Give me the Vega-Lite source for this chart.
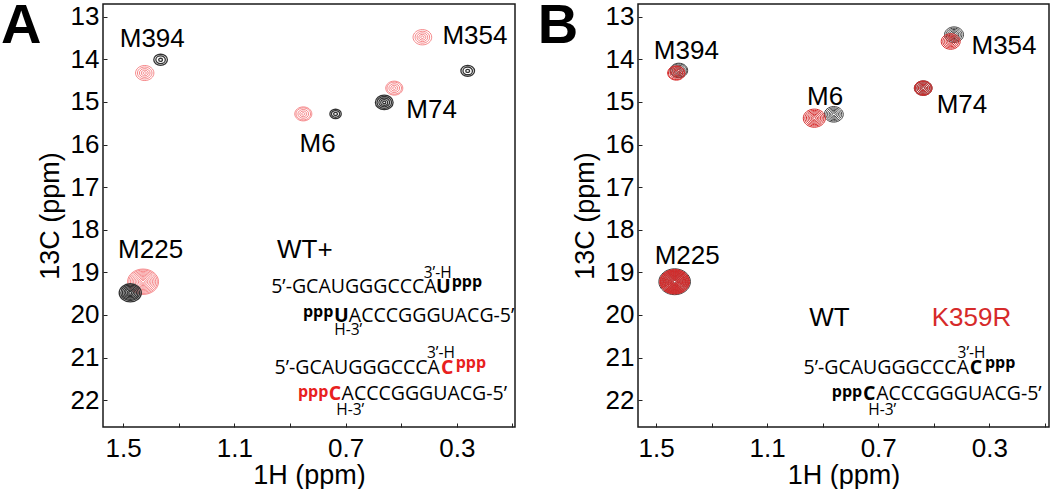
{
  "$schema": "https://vega.github.io/schema/vega-lite/v6.json",
  "background": "white",
  "padding": {"left": 0, "top": -3, "right": 0, "bottom": 0},
  "bounds": "flush",
  "spacing": 123,
  "datasets": {
    "peaksA": [
      {"peak": "M394", "series": "WT+ pppC", "x": 1.422, "y": 14.32, "levels": [1, 2.2, 3.4, 4.6, 5.8]},
      {"peak": "M354", "series": "WT+ pppC", "x": 0.424, "y": 13.48, "levels": [1, 2.2, 3.4, 4.6, 5.9]},
      {"peak": "M74", "series": "WT+ pppC", "x": 0.525, "y": 14.675, "levels": [1, 2.2, 3.4, 4.6, 5.4]},
      {"peak": "M6", "series": "WT+ pppC", "x": 0.852, "y": 15.28, "levels": [1, 2.2, 3.4, 4.6, 5.4]},
      {"peak": "M225", "series": "WT+ pppC", "x": 1.428, "y": 19.22, "levels": [1, 2, 3, 4, 5, 6, 7, 8, 9, 9.8]},
      {"peak": "M394", "series": "WT+ pppU", "x": 1.365, "y": 14.01, "levels": [1.2, 3, 4.3]},
      {"peak": "M354", "series": "WT+ pppU", "x": 0.261, "y": 14.27, "levels": [1.2, 3, 4.3]},
      {"peak": "M74", "series": "WT+ pppU", "x": 0.561, "y": 15.01, "levels": [1, 2.2, 3.4, 4.6, 5.6]},
      {"peak": "M6", "series": "WT+ pppU", "x": 0.736, "y": 15.28, "levels": [1.2, 2.6, 3.6]},
      {"peak": "M225", "series": "WT+ pppU", "x": 1.474, "y": 19.48, "levels": [1, 2, 3, 4, 5, 6, 7]}
    ],
    "peaksB": [
      {"peak": "M394", "series": "WT", "x": 1.418, "y": 14.26, "levels": [1, 2, 3, 4, 5, 5.6]},
      {"peak": "M354", "series": "WT", "x": 0.427, "y": 13.42, "levels": [1, 2, 3, 4, 5, 6]},
      {"peak": "M74", "series": "WT", "x": 0.538, "y": 14.675, "levels": [1, 2, 3, 4, 5, 5.6]},
      {"peak": "M6", "series": "WT", "x": 0.86, "y": 15.29, "levels": [1, 2, 3, 4, 5, 6]},
      {"peak": "M225", "series": "WT", "x": 1.433, "y": 19.22, "levels": [1, 2, 3, 4, 5, 6, 7, 8, 9, 10]},
      {"peak": "M394", "series": "K359R", "x": 1.427, "y": 14.32, "levels": [1, 2, 3, 4, 5, 5.5]},
      {"peak": "M354", "series": "K359R", "x": 0.439, "y": 13.58, "levels": [1, 2, 3, 4, 5, 6]},
      {"peak": "M74", "series": "K359R", "x": 0.538, "y": 14.675, "levels": [1, 2, 3, 4, 5, 5.6]},
      {"peak": "M6", "series": "K359R", "x": 0.93, "y": 15.38, "levels": [1, 2, 3, 4, 5, 6, 7]},
      {"peak": "M225", "series": "K359R", "x": 1.433, "y": 19.22, "levels": [1, 1.5, 2, 2.5, 3, 3.5, 4, 4.5, 5, 5.5, 6, 6.5, 7, 7.5, 8, 8.5, 9, 9.5]}
    ],
    "textA": [
      {"role": "letter", "text": "A", "x": 1.866, "y": 13.611, "series": "label"},
      {"role": "label", "text": "M394", "x": 1.395, "y": 13.52, "series": "label"},
      {"role": "label", "text": "M354", "x": 0.235, "y": 13.46, "series": "label"},
      {"role": "label", "text": "M74", "x": 0.3906, "y": 15.18, "series": "label"},
      {"role": "label", "text": "M6", "x": 0.8008, "y": 15.985, "series": "label"},
      {"role": "label", "text": "M225", "x": 1.401, "y": 18.47, "series": "label"},
      {"role": "label", "text": "WT+", "x": 0.8465, "y": 18.47, "series": "label"},
      {"role": "strand5", "text": "5’-GCAUGGGCCCA", "x": 0.3726, "y": 19.49, "series": "label"},
      {"role": "nt", "text": "U", "x": 0.3485, "y": 19.49, "series": "label"},
      {"role": "tri5", "text": "ppp", "x": 0.3186, "y": 19.35, "series": "label"},
      {"role": "end", "text": "3’-H", "x": 0.369, "y": 19.14, "series": "label"},
      {"role": "tri3", "text": "ppp", "x": 0.7443, "y": 20.056, "series": "label"},
      {"role": "nt", "text": "U", "x": 0.7155, "y": 20.159, "series": "label"},
      {"role": "strand3", "text": "ACCCGGGUACG-5’", "x": 0.6882, "y": 20.159, "series": "label"},
      {"role": "end", "text": "H-3’", "x": 0.6904, "y": 20.46, "series": "label"},
      {"role": "strand5", "text": "5’-GCAUGGGCCCA", "x": 0.3608, "y": 21.395, "series": "label"},
      {"role": "nt", "text": "C", "x": 0.3349, "y": 21.395, "series": "pppC"},
      {"role": "tri5", "text": "ppp", "x": 0.3043, "y": 21.254, "series": "pppC"},
      {"role": "end", "text": "3’-H", "x": 0.3575, "y": 21.02, "series": "label"},
      {"role": "tri3", "text": "ppp", "x": 0.7623, "y": 21.936, "series": "pppC"},
      {"role": "nt", "text": "C", "x": 0.7386, "y": 22.0, "series": "pppC"},
      {"role": "strand3", "text": "ACCCGGGUACG-5’", "x": 0.7145, "y": 22.0, "series": "label"},
      {"role": "end", "text": "H-3’", "x": 0.6832, "y": 22.34, "series": "label"}
    ],
    "textB": [
      {"role": "letter", "text": "B", "x": 1.853, "y": 13.611, "series": "label"},
      {"role": "label", "text": "M394", "x": 1.391, "y": 13.8, "series": "label"},
      {"role": "label", "text": "M354", "x": 0.247, "y": 13.68, "series": "label"},
      {"role": "label", "text": "M6", "x": 0.891, "y": 14.885, "series": "label"},
      {"role": "label", "text": "M74", "x": 0.3984, "y": 15.067, "series": "label"},
      {"role": "label", "text": "M225", "x": 1.388, "y": 18.61, "series": "label"},
      {"role": "label", "text": "WT", "x": 0.876, "y": 20.08, "series": "label"},
      {"role": "label", "text": "K359R", "x": 0.364, "y": 20.08, "series": "K359R"},
      {"role": "strand5", "text": "5’-GCAUGGGCCCA", "x": 0.3732, "y": 21.395, "series": "label"},
      {"role": "nt", "text": "C", "x": 0.3479, "y": 21.395, "series": "label"},
      {"role": "tri5", "text": "ppp", "x": 0.3155, "y": 21.254, "series": "label"},
      {"role": "end", "text": "3’-H", "x": 0.3641, "y": 21.02, "series": "label"},
      {"role": "tri3", "text": "ppp", "x": 0.7577, "y": 21.936, "series": "label"},
      {"role": "nt", "text": "C", "x": 0.7324, "y": 22.0, "series": "label"},
      {"role": "strand3", "text": "ACCCGGGUACG-5’", "x": 0.7072, "y": 22.0, "series": "label"},
      {"role": "end", "text": "H-3’", "x": 0.6856, "y": 22.34, "series": "label"}
    ]
  },
  "hconcat": [
    {
      "width": 412,
      "height": 423,
      "layer": [
        {
          "data": {"name": "peaksA"},
          "transform": [{"filter": "datum.series === 'WT+ pppC'"}, {"flatten": ["levels"], "as": ["level"]}],
          "mark": {"type": "point", "filled": false, "strokeWidth": 0.7, "opacity": 1, "shape": "M-1,0A1,0.82 0 1,0 1,0A1,0.82 0 1,0 -1,0Z"},
          "encoding": {
            "x": {"field": "x", "type": "quantitative", "scale": {"domain": [0.091, 1.572], "reverse": true, "nice": false, "zero": false},
              "axis": {"title": "1H (ppm)", "values": [1.5, 1.4, 1.3, 1.2, 1.1, 1.0, 0.9, 0.8, 0.7, 0.6, 0.5, 0.4, 0.3, 0.2, 0.1], "format": ".1f",
                "labelExpr": "indexof(['1.5','1.1','0.7','0.3'], datum.label) >= 0 ? datum.label : ''", "labelFlush": false, "labelOverlap": false, "labelPadding": 12, "titlePadding": 1}},
            "y": {"field": "y", "type": "quantitative", "scale": {"domain": [12.7, 22.63], "reverse": true, "nice": false, "zero": false},
              "axis": {"title": "13C (ppm)", "values": [13, 14, 15, 16, 17, 18, 19, 20, 21, 22], "labelFlush": false, "labelOverlap": false, "labelPadding": 8, "titlePadding": 6}},
            "size": {"field": "level", "type": "quantitative", "scale": {"type": "pow", "exponent": 2, "domain": [0, 10], "range": [0, 1000]}, "legend": null},
            "color": {"field": "series", "type": "nominal", "scale": {"domain": ["WT+ pppU", "WT+ pppC", "label", "pppC"], "range": ["#333333", "#f0575a", "#000000", "#e82020"]}, "legend": null}
          }
        },
        {
          "data": {"name": "peaksA"},
          "transform": [{"filter": "datum.series === 'WT+ pppU'"}, {"flatten": ["levels"], "as": ["level"]}],
          "mark": {"type": "point", "filled": false, "strokeWidth": 1.3, "opacity": 1, "shape": "M-1,0A1,0.82 0 1,0 1,0A1,0.82 0 1,0 -1,0Z"},
          "encoding": {"x": {"field": "x", "type": "quantitative"}, "y": {"field": "y", "type": "quantitative"}, "size": {"field": "level", "type": "quantitative"}, "color": {"field": "series", "type": "nominal"}}
        },
        {
          "data": {"name": "textA"},
          "transform": [{"filter": "datum.role === 'label'"}],
          "mark": {"type": "text", "font": "Liberation Sans", "fontSize": 26, "align": "center", "baseline": "middle"},
          "encoding": {"x": {"field": "x", "type": "quantitative"}, "y": {"field": "y", "type": "quantitative"}, "text": {"field": "text"}, "color": {"field": "series", "type": "nominal"}}
        },
        {
          "data": {"name": "textA"},
          "transform": [{"filter": "datum.role === 'letter'"}],
          "mark": {"type": "text", "font": "Liberation Sans", "fontSize": 56, "fontWeight": "bold", "align": "center", "baseline": "alphabetic"},
          "encoding": {"x": {"field": "x", "type": "quantitative"}, "y": {"field": "y", "type": "quantitative"}, "text": {"field": "text"}, "color": {"field": "series", "type": "nominal"}}
        },
        {
          "data": {"name": "textA"},
          "transform": [{"filter": "datum.role === 'strand5'"}],
          "mark": {"type": "text", "font": "Open Sans", "fontSize": 19.5, "align": "right", "baseline": "alphabetic"},
          "encoding": {"x": {"field": "x", "type": "quantitative"}, "y": {"field": "y", "type": "quantitative"}, "text": {"field": "text"}, "color": {"field": "series", "type": "nominal"}}
        },
        {
          "data": {"name": "textA"},
          "transform": [{"filter": "datum.role === 'strand3'"}],
          "mark": {"type": "text", "font": "Open Sans", "fontSize": 19.5, "align": "left", "baseline": "alphabetic"},
          "encoding": {"x": {"field": "x", "type": "quantitative"}, "y": {"field": "y", "type": "quantitative"}, "text": {"field": "text"}, "color": {"field": "series", "type": "nominal"}}
        },
        {
          "data": {"name": "textA"},
          "transform": [{"filter": "datum.role === 'nt'"}],
          "mark": {"type": "text", "font": "Open Sans", "fontSize": 19.5, "fontWeight": "bold", "align": "center", "baseline": "alphabetic"},
          "encoding": {"x": {"field": "x", "type": "quantitative"}, "y": {"field": "y", "type": "quantitative"}, "text": {"field": "text"}, "color": {"field": "series", "type": "nominal"}}
        },
        {
          "data": {"name": "textA"},
          "transform": [{"filter": "datum.role === 'tri5'"}],
          "mark": {"type": "text", "font": "Open Sans", "fontSize": 16, "fontWeight": "bold", "align": "left", "baseline": "alphabetic"},
          "encoding": {"x": {"field": "x", "type": "quantitative"}, "y": {"field": "y", "type": "quantitative"}, "text": {"field": "text"}, "color": {"field": "series", "type": "nominal"}}
        },
        {
          "data": {"name": "textA"},
          "transform": [{"filter": "datum.role === 'tri3'"}],
          "mark": {"type": "text", "font": "Open Sans", "fontSize": 16, "fontWeight": "bold", "align": "right", "baseline": "alphabetic"},
          "encoding": {"x": {"field": "x", "type": "quantitative"}, "y": {"field": "y", "type": "quantitative"}, "text": {"field": "text"}, "color": {"field": "series", "type": "nominal"}}
        },
        {
          "data": {"name": "textA"},
          "transform": [{"filter": "datum.role === 'end'"}],
          "mark": {"type": "text", "font": "Open Sans", "fontSize": 15.5, "align": "center", "baseline": "alphabetic"},
          "encoding": {"x": {"field": "x", "type": "quantitative"}, "y": {"field": "y", "type": "quantitative"}, "text": {"field": "text"}, "color": {"field": "series", "type": "nominal"}}
        }
      ]
    },
    {
      "width": 411,
      "height": 423,
      "layer": [
        {
          "data": {"name": "peaksB"},
          "transform": [{"flatten": ["levels"], "as": ["level"]}],
          "mark": {"type": "point", "filled": false, "strokeWidth": 1, "opacity": 1, "shape": "M-1,0A1,0.82 0 1,0 1,0A1,0.82 0 1,0 -1,0Z"},
          "encoding": {
            "x": {"field": "x", "type": "quantitative", "scale": {"domain": [0.085, 1.565], "reverse": true, "nice": false, "zero": false},
              "axis": {"title": "1H (ppm)", "values": [1.5, 1.4, 1.3, 1.2, 1.1, 1.0, 0.9, 0.8, 0.7, 0.6, 0.5, 0.4, 0.3, 0.2, 0.1], "format": ".1f",
                "labelExpr": "indexof(['1.5','1.1','0.7','0.3'], datum.label) >= 0 ? datum.label : ''", "labelFlush": false, "labelOverlap": false, "labelPadding": 12, "titlePadding": 1}},
            "y": {"field": "y", "type": "quantitative", "scale": {"domain": [12.7, 22.63], "reverse": true, "nice": false, "zero": false},
              "axis": {"title": "13C (ppm)", "values": [13, 14, 15, 16, 17, 18, 19, 20, 21, 22], "labelFlush": false, "labelOverlap": false, "labelPadding": 8, "titlePadding": 6}},
            "size": {"field": "level", "type": "quantitative", "scale": {"type": "pow", "exponent": 2, "domain": [0, 10], "range": [0, 1000]}, "legend": null},
            "color": {"field": "series", "type": "nominal", "scale": {"domain": ["WT", "K359R", "label"], "range": ["#404040", "#d62a2a", "#000000"]}, "legend": null}
          }
        },
        {
          "data": {"name": "textB"},
          "transform": [{"filter": "datum.role === 'label'"}],
          "mark": {"type": "text", "font": "Liberation Sans", "fontSize": 26, "align": "center", "baseline": "middle"},
          "encoding": {"x": {"field": "x", "type": "quantitative"}, "y": {"field": "y", "type": "quantitative"}, "text": {"field": "text"}, "color": {"field": "series", "type": "nominal"}}
        },
        {
          "data": {"name": "textB"},
          "transform": [{"filter": "datum.role === 'letter'"}],
          "mark": {"type": "text", "font": "Liberation Sans", "fontSize": 56, "fontWeight": "bold", "align": "center", "baseline": "alphabetic"},
          "encoding": {"x": {"field": "x", "type": "quantitative"}, "y": {"field": "y", "type": "quantitative"}, "text": {"field": "text"}, "color": {"field": "series", "type": "nominal"}}
        },
        {
          "data": {"name": "textB"},
          "transform": [{"filter": "datum.role === 'strand5'"}],
          "mark": {"type": "text", "font": "Open Sans", "fontSize": 19.5, "align": "right", "baseline": "alphabetic"},
          "encoding": {"x": {"field": "x", "type": "quantitative"}, "y": {"field": "y", "type": "quantitative"}, "text": {"field": "text"}, "color": {"field": "series", "type": "nominal"}}
        },
        {
          "data": {"name": "textB"},
          "transform": [{"filter": "datum.role === 'strand3'"}],
          "mark": {"type": "text", "font": "Open Sans", "fontSize": 19.5, "align": "left", "baseline": "alphabetic"},
          "encoding": {"x": {"field": "x", "type": "quantitative"}, "y": {"field": "y", "type": "quantitative"}, "text": {"field": "text"}, "color": {"field": "series", "type": "nominal"}}
        },
        {
          "data": {"name": "textB"},
          "transform": [{"filter": "datum.role === 'nt'"}],
          "mark": {"type": "text", "font": "Open Sans", "fontSize": 19.5, "fontWeight": "bold", "align": "center", "baseline": "alphabetic"},
          "encoding": {"x": {"field": "x", "type": "quantitative"}, "y": {"field": "y", "type": "quantitative"}, "text": {"field": "text"}, "color": {"field": "series", "type": "nominal"}}
        },
        {
          "data": {"name": "textB"},
          "transform": [{"filter": "datum.role === 'tri5'"}],
          "mark": {"type": "text", "font": "Open Sans", "fontSize": 16, "fontWeight": "bold", "align": "left", "baseline": "alphabetic"},
          "encoding": {"x": {"field": "x", "type": "quantitative"}, "y": {"field": "y", "type": "quantitative"}, "text": {"field": "text"}, "color": {"field": "series", "type": "nominal"}}
        },
        {
          "data": {"name": "textB"},
          "transform": [{"filter": "datum.role === 'tri3'"}],
          "mark": {"type": "text", "font": "Open Sans", "fontSize": 16, "fontWeight": "bold", "align": "right", "baseline": "alphabetic"},
          "encoding": {"x": {"field": "x", "type": "quantitative"}, "y": {"field": "y", "type": "quantitative"}, "text": {"field": "text"}, "color": {"field": "series", "type": "nominal"}}
        },
        {
          "data": {"name": "textB"},
          "transform": [{"filter": "datum.role === 'end'"}],
          "mark": {"type": "text", "font": "Open Sans", "fontSize": 15.5, "align": "center", "baseline": "alphabetic"},
          "encoding": {"x": {"field": "x", "type": "quantitative"}, "y": {"field": "y", "type": "quantitative"}, "text": {"field": "text"}, "color": {"field": "series", "type": "nominal"}}
        }
      ]
    }
  ],
  "resolve": {"scale": {"x": "independent", "y": "independent", "color": "independent", "size": "independent"}},
  "config": {
    "view": {"stroke": "#1a1a1a", "strokeWidth": 1.5},
    "axis": {"grid": false, "domain": false, "labelFont": "Liberation Sans", "titleFont": "Liberation Sans", "labelFontSize": 26, "titleFontSize": 27, "titleFontWeight": "normal", "labelColor": "#000000", "titleColor": "#000000", "tickColor": "#222222", "tickSize": -4, "tickWidth": 1}
  }
}
